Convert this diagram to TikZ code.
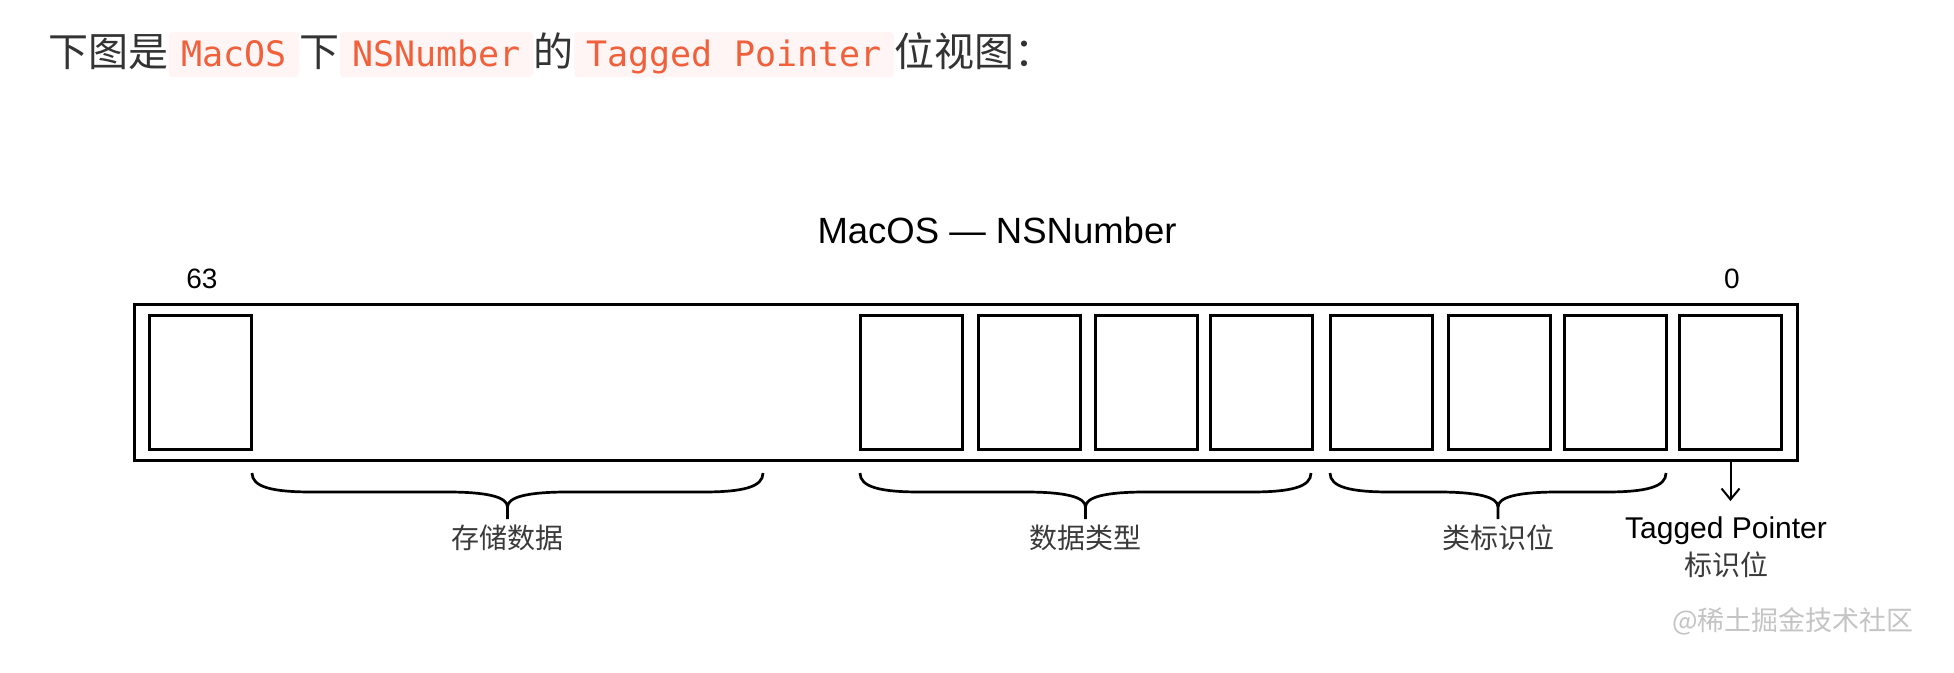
\documentclass[tikz,border=0pt]{standalone}
\usepackage{fontspec}
\setmainfont{Liberation Sans}
\newfontfamily\cjk{Noto Sans CJK SC}
\newfontfamily\codefont{DejaVu Sans Mono}
\usetikzlibrary{arrows.meta}
\definecolor{bodytext}{HTML}{333333}
\definecolor{codetext}{HTML}{F0603A}
\definecolor{codebg}{HTML}{FFF5F5}
\definecolor{wmgray}{HTML}{C4C4C4}
\definecolor{labelgray}{HTML}{3A3A3A}
\begin{document}
\begin{tikzpicture}[x=1pt,y=-1pt,
  bodycjk/.style={inner sep=0pt, anchor=base west, text=bodytext, font=\cjk\fontsize{40}{44}\selectfont},
  codespan/.style={anchor=base west, fill=codebg, rounded corners=4pt, text=codetext,
    inner xsep=12.5pt, inner ysep=0pt, text height=34pt, text depth=11pt,
    font=\codefont\fontsize{35}{40}\selectfont},
  wordbox/.style={draw=black, line width=3pt, minimum width=1663pt, minimum height=156pt, inner sep=0pt},
  bitbox/.style={draw=black, line width=3pt, minimum width=102pt, minimum height=134pt, inner sep=0pt},
  bracestyle/.style={draw=black, line width=2.7pt},
  bracelabel/.style={anchor=base, inner sep=0pt, text=labelgray, font=\cjk\fontsize{28}{31}\selectfont},
  numlabel/.style={anchor=base, inner sep=0pt, font=\fontsize{28}{32}\selectfont},
]
\useasboundingbox[fill=white] (0,0) rectangle (1954,672);

% heading line
\node[bodycjk] (t1) at (48,66) {下图是};
\node[codespan] (c1) at (t1.base east) {MacOS};
\node[bodycjk] (t2) at (c1.base east) {下};
\node[codespan] (c2) at (t2.base east) {NSNumber};
\node[bodycjk] (t3) at (c2.base east) {的};
\node[codespan] (c3) at (t3.base east) {Tagged Pointer};
\node[bodycjk] (t4) at (c3.base east) {位视图：};

% title
\node[anchor=base, inner sep=0pt, font=\fontsize{36.5}{40}\selectfont] (title) at (997,243) {MacOS — NSNumber};

% word and bits
\node[wordbox] (word) at (966.3,382) {};
\node[bitbox] (b63) at (200.7,382) {};
\node[bitbox] (d1) at (911,382) {};
\node[bitbox] (d2) at (1029,382) {};
\node[bitbox] (d3) at (1146,382) {};
\node[bitbox] (d4) at (1261,382) {};
\node[bitbox] (k1) at (1381,382) {};
\node[bitbox] (k2) at (1499.5,382) {};
\node[bitbox] (k3) at (1615,382) {};
\node[bitbox] (tag) at (1730.5,382) {};

\node[numlabel] (n63) at (202,288) {63};
\node[numlabel] (n0) at (1732,288) {0};

% braces
\foreach \xa/\xb in {252/763, 860/1311, 1330/1666} {
  \pgfmathsetmacro{\xm}{(\xa+\xb)/2}
  \draw[bracestyle] (\xa,473) .. controls (\xa,487) and ({\xa+20},492) .. ({\xa+60},492)
    -- ({\xm-60},492) .. controls ({\xm-20},492) and (\xm,497) .. (\xm,507) -- (\xm,519);
  \draw[bracestyle] (\xm,507) .. controls (\xm,497) and ({\xm+20},492) .. ({\xm+60},492)
    -- ({\xb-60},492) .. controls ({\xb-20},492) and (\xb,487) .. (\xb,473);
}
\node[bracelabel] (lstore) at (507.5,548) {存储数据};
\node[bracelabel] (ltype) at (1085.5,548) {数据类型};
\node[bracelabel] (lclass) at (1498,548) {类标识位};

% tagged pointer flag
\node[anchor=base, inner sep=0pt, font=\fontsize{30}{34}\selectfont] (tp) at (1726,538) {Tagged Pointer};
\node[bracelabel] (tpcn) at (1726,575) {标识位};
\draw[line width=2pt, -{Straight Barb[length=11pt,width=18pt,line width=2pt]}, shorten >=15pt]
  (tag.center |- word.south) -- (tag.center |- tp.north);

% watermark
\node[anchor=base west, inner sep=0pt, text=wmgray, font=\cjk\fontsize{27}{30}\selectfont] (wm) at (1672,630) {@稀土掘金技术社区};
\end{tikzpicture}
\end{document}
